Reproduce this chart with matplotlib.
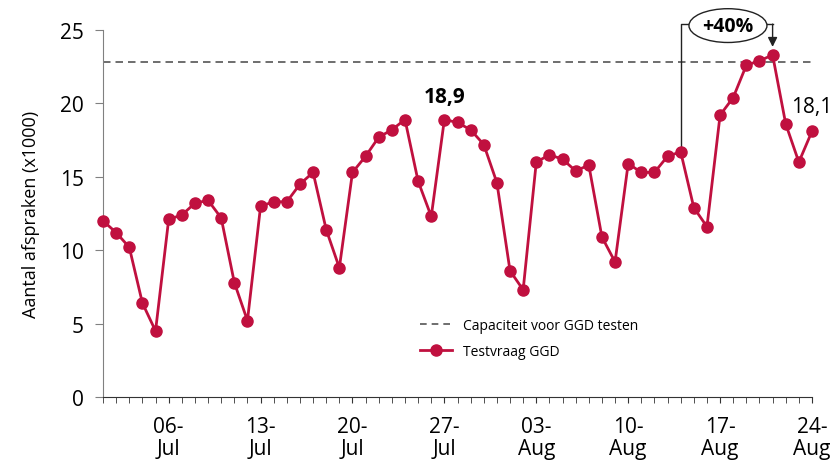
import matplotlib.pyplot as plt
import pandas as pd
from matplotlib.lines import Line2D

plt.rcParams['font.family'] = ['Open Sans', 'DejaVu Sans']

# data
dates = pd.date_range('2020-07-01', '2020-08-24', freq='D')
testvraag = [12.0, 11.2, 10.2, 6.4, 4.5, 12.1, 12.4, 13.2, 13.4, 12.2,
             7.8, 5.2, 13.0, 13.3, 13.3, 14.5, 15.3, 11.4, 8.8, 15.3,
             16.4, 17.7, 18.2, 18.9, 14.7, 12.3, 18.9, 18.7, 18.2, 17.2,
             14.6, 8.6, 7.3, 16.0, 16.5, 16.2, 15.4, 15.8, 10.9, 9.2,
             15.9, 15.3, 15.3, 16.4, 16.7, 12.9, 11.6, 19.2, 20.4, 22.6,
             22.9, 23.3, 18.6, 16.0, 18.1]
capaciteit = 22.8
tick_dates = pd.to_datetime(['2020-07-06', '2020-07-13', '2020-07-20', '2020-07-27',
                             '2020-08-03', '2020-08-10', '2020-08-17', '2020-08-24'])
tick_labels = ['06-\nJul', '13-\nJul', '20-\nJul', '27-\nJul',
               '03-\nAug', '10-\nAug', '17-\nAug', '24-\nAug']

RED = '#C0103F'
GREY = '#808080'

fig = plt.figure(figsize=(8.39, 4.64), dpi=100)
ax = fig.add_axes([0.1228, 0.1422, 0.8450, 0.7910])

ax.plot(dates, [capaciteit] * len(dates), color='#555555', lw=1.2,
        dashes=(4.5, 3), label='Capaciteit voor GGD testen')
ax.plot(dates, testvraag, color=RED, lw=2.0, marker='o', ms=8,
        mec=RED, mfc=RED, clip_on=False, zorder=3, label='Testvraag GGD')

ax.set_xlim(dates[0], dates[-1])
ax.set_ylim(0, 25)
ax.set_yticks([0, 5, 10, 15, 20, 25])
ax.tick_params(axis='y', labelsize=15, length=6, color=GREY, pad=8)
ax.set_xticks(dates, minor=True)
ax.set_xticks(tick_dates)
ax.set_xticklabels(tick_labels, fontsize=15, linespacing=1.05)
ax.tick_params(axis='x', which='both', length=4, color='#333333', pad=10)
ax.set_ylabel('Aantal afspraken (x1000)', fontsize=13, labelpad=14)

for s in ['top', 'right']:
    ax.spines[s].set_visible(False)
ax.spines['left'].set_color(GREY)
ax.spines['bottom'].set_color('#333333')

# value labels
ax.text(dates[26], 20.1, '18,9', fontsize=15, fontweight='bold',
        ha='center', va='baseline')
ax.text(dates[-1], 19.4, '18,1', fontsize=15, ha='center', va='baseline')

# +40% annotation
i0, i1 = 44, 51
ytop = 25.4
ax.plot([dates[i0], dates[i0], dates[i0] + pd.Timedelta(days=0.9)],
        [testvraag[i0] + 0.25, ytop, ytop], color='#222222', lw=1.0, clip_on=False)
ax.plot([dates[i1] - pd.Timedelta(days=0.6), dates[i1]], [ytop, ytop],
        color='#222222', lw=1.0, clip_on=False)
ax.annotate('', xy=(dates[i1], 23.85), xytext=(dates[i1], ytop),
            arrowprops=dict(arrowstyle='-|>', color='#222222', lw=1.0,
                            mutation_scale=14, shrinkA=0, shrinkB=0),
            annotation_clip=False)
ax.text(dates[i0] + pd.Timedelta(days=3.6), ytop - 0.1, '+40%', fontsize=14,
        fontweight='bold', ha='center', va='center',
        bbox=dict(boxstyle='ellipse,pad=0.1', fc='white', ec='#222222', lw=1.0))

handles = [Line2D([], [], color='#555555', lw=1.2, dashes=(4, 3)),
           Line2D([], [], color=RED, lw=2.0, marker='o', ms=8)]
ax.legend(handles, ['Capaciteit voor GGD testen', 'Testvraag GGD'],
          frameon=False, loc='upper left', bbox_to_anchor=(0.43, 0.25),
          fontsize=10, handlelength=2.3, labelspacing=0.8, handletextpad=0.8)

fig.savefig('out.png', dpi=100)
